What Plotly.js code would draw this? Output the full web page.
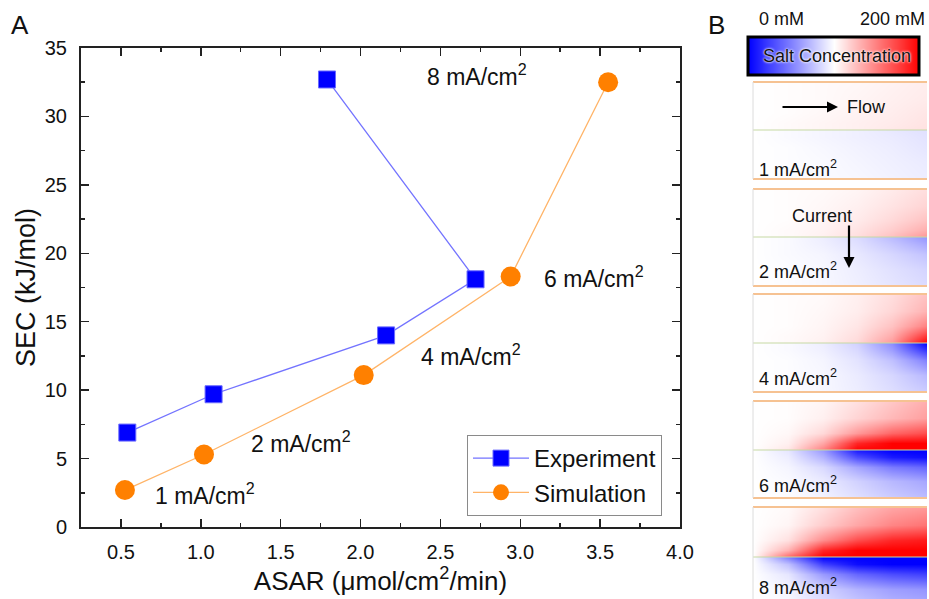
<!DOCTYPE html>
<html><head><meta charset="utf-8">
<script src="https://cdn.plot.ly/plotly-3.0.1.min.js"></script>
<style>html,body{margin:0;padding:0;background:#fff}</style>
</head><body><div id="chart" style="width:929px;height:599px"></div>
<script>
// ---------- Panel A data ----------
const expASAR = [0.54, 1.08, 2.16, 2.72, 1.79];
const expSEC  = [6.9, 9.7, 14.0, 18.1, 32.7];
const simASAR = [0.525, 1.02, 2.02, 2.94, 3.55];
const simSEC  = [2.7, 5.3, 11.1, 18.3, 32.5];
const currentLabels = ['1 mA/cm<sup>2</sup>', '2 mA/cm<sup>2</sup>', '4 mA/cm<sup>2</sup>', '6 mA/cm<sup>2</sup>', '8 mA/cm<sup>2</sup>'];

// ---------- Panel B data (salt concentration, mM) ----------
const concScale = [0, 25, 50, 75, 100, 125, 150, 175, 200];
const channelX = [0, 0.2, 0.4, 0.6, 0.8, 1.0];        // along flow
const channelY = [0, 0.15, 0.35, 0.65, 1.0];          // distance from membrane
// rows: from membrane outward
const conc1Top = [[100,102,104,106,109,112],[100,102,104,106,108,111],[100,101,103,105,107,110],[100,101,102,104,106,108],[100,101,102,103,105,107]];
const conc1Bot = [[100,98,96,94,91,88],[100,98,96,94,92,89],[100,99,97,95,93,90],[100,99,98,96,94,92],[100,99,98,97,95,93]];
const conc2Top = [[100,102,106,113,125,142],[100,102,105,111,120,132],[100,101,104,108,115,124],[100,101,103,106,111,117],[100,101,102,104,108,113]];
const conc2Bot = [[100,98,93,86,73,58],[100,98,94,88,78,66],[100,98,96,91,84,76],[100,99,97,93,88,83],[100,99,97,94,90,86]];
const conc4Top = [[100,102,106,115,140,200],[100,102,105,113,133,180],[100,101,104,110,124,150],[100,101,103,107,116,130],[100,101,102,106,113,124]];
const conc4Bot = [[100,98,93,82,55,0],[100,98,94,85,62,20],[100,99,96,89,75,50],[100,99,97,92,84,72],[100,99,97,93,87,80]];
const conc6Top = [[100,110,150,200,200,200],[100,106,135,185,200,200],[100,103,115,140,160,170],[100,101,106,117,128,138],[100,101,104,112,122,132]];
const conc6Bot = [[100,90,60,10,0,0],[100,93,70,30,10,5],[100,96,85,65,48,40],[100,98,92,82,72,65],[100,99,95,88,80,74]];
const conc8Top = [[100,160,200,200,200,200],[100,130,185,200,200,200],[100,112,145,170,185,190],[100,104,120,135,148,155],[100,102,112,125,135,140]];
const conc8Bot = [[100,50,0,0,0,0],[100,75,25,5,0,0],[100,90,60,40,30,25],[100,96,82,70,62,58],[100,98,88,80,72,68]];
const panelTop = [conc1Top, conc2Top, conc4Top, conc6Top, conc8Top];
const panelBot = [conc1Bot, conc2Bot, conc4Bot, conc6Bot, conc8Bot];
const panelNames = ['1 mA/cm<sup>2</sup>', '2 mA/cm<sup>2</sup>', '4 mA/cm<sup>2</sup>', '6 mA/cm<sup>2</sup>', '8 mA/cm<sup>2</sup>'];

// ---------- helpers ----------
const W = 929, H = 599;
const PX = x => x / W;
const PY = y => 1 - y / H;
const FONT = 'Liberation Sans, Arial, sans-serif';
const cscale = [[0, 'rgb(0,0,255)'], [0.5, 'rgb(255,255,255)'], [1, 'rgb(255,0,0)']];
const txt = (x, y, text, size, extra) => Object.assign({xref: 'paper', yref: 'paper', x: PX(x), y: PY(y), text: text,
  showarrow: false, xanchor: 'center', yanchor: 'middle', font: {size: size, family: FONT, color: '#111'}}, extra || {});

const traces = [
  {x: expASAR, y: expSEC, name: 'Experiment', type: 'scatter', mode: 'lines+markers',
   xaxis: 'x', yaxis: 'y',
   line: {color: 'rgba(90,90,255,0.85)', width: 1.3},
   marker: {symbol: 'square', size: 17, color: '#0000ff', line: {color: '#6a6aff', width: 1}}},
  {x: simASAR, y: simSEC, name: 'Simulation', type: 'scatter', mode: 'lines+markers',
   xaxis: 'x', yaxis: 'y',
   line: {color: '#ffb468', width: 1.3},
   marker: {symbol: 'circle', size: 20, color: '#ff8000'}}
];

const layout = {
  width: W, height: H,
  margin: {l: 0, r: 0, t: 0, b: 0},
  paper_bgcolor: '#fff', plot_bgcolor: 'rgba(0,0,0,0)',
  font: {family: FONT, color: '#111'},
  showlegend: true,
  legend: {x: PX(467), y: PY(435), xanchor: 'left', yanchor: 'top',
    bordercolor: '#8a8a8a', borderwidth: 1, bgcolor: '#fff',
    font: {size: 24, family: FONT}, itemwidth: 56, tracegroupgap: 0},
  xaxis: {domain: [PX(81), PX(680)], range: [0.25, 4.0], anchor: 'y',
    tick0: 0.5, dtick: 0.5, tickformat: '.1f',
    ticks: 'inside', ticklen: 8, tickwidth: 1.5, tickcolor: '#222',
    showline: true, linewidth: 2, linecolor: '#222', mirror: 'allticks',
    showgrid: false, zeroline: false,
    minor: {ticks: 'inside', ticklen: 4, tickwidth: 1.5, tickcolor: '#222', dtick: 0.25, tick0: 0.5, showgrid: false},
    tickfont: {size: 20, family: FONT}, ticklabelstandoff: 6,
    title: {text: 'ASAR (μmol/cm<sup>2</sup>/min)', font: {size: 26, family: FONT}, standoff: 6}},
  yaxis: {domain: [PY(527), PY(48)], range: [0, 35], anchor: 'x',
    tick0: 0, dtick: 5,
    ticks: 'inside', ticklen: 8, tickwidth: 1.5, tickcolor: '#222',
    showline: true, linewidth: 2, linecolor: '#222', mirror: 'allticks',
    showgrid: false, zeroline: false,
    minor: {ticks: 'inside', ticklen: 4, tickwidth: 1.5, tickcolor: '#222', dtick: 2.5, showgrid: false},
    tickfont: {size: 20, family: FONT}, ticklabelstandoff: 8,
    title: {text: 'SEC (kJ/mol)', font: {size: 27, family: FONT}, standoff: 1}},
  xaxis2: {domain: [PX(753), PX(927)], range: [0, 1], anchor: 'y2', visible: false, fixedrange: true},
  xaxis3: {domain: [PX(748), PX(919)], range: [0, 200], anchor: 'y12', visible: false, fixedrange: true},
  yaxis12: {domain: [PY(75), PY(37)], range: [0, 1], anchor: 'x3', visible: false, fixedrange: true},
  shapes: [],
  annotations: []
};

// panel geometry (pixels)
const pTop = [82, 189, 294, 401, 507];
const pMid = [130, 237, 343, 450, 557];
const pBot = [179, 286, 392, 498, 606];
const pLab = [168, 270, 377, 484, 586];

for (let i = 0; i < 5; i++) {
  const yt = 'yaxis' + (2 + 2 * i), yb = 'yaxis' + (3 + 2 * i);
  const botVisible = Math.min(pBot[i], H);
  layout[yt] = {domain: [PY(pMid[i]), PY(pTop[i])], range: [0, 1], anchor: 'x2', visible: false, fixedrange: true};
  const frac = (botVisible - pMid[i]) / (pBot[i] - pMid[i]);
  layout[yb] = {domain: [PY(botVisible), PY(pMid[i])], range: [frac, 0], anchor: 'x2', visible: false, fixedrange: true};
  traces.push({type: 'heatmap', x: channelX, y: channelY, z: panelTop[i], xaxis: 'x2', yaxis: 'y' + (2 + 2 * i),
    zsmooth: 'best', colorscale: cscale, zmin: 0, zmax: 200, showscale: false, hoverinfo: 'skip', showlegend: false});
  traces.push({type: 'heatmap', x: channelX, y: channelY, z: panelBot[i], xaxis: 'x2', yaxis: 'y' + (3 + 2 * i),
    zsmooth: 'best', colorscale: cscale, zmin: 0, zmax: 200, showscale: false, hoverinfo: 'skip', showlegend: false});
  layout.shapes.push({type: 'line', xref: 'paper', yref: 'paper', x0: PX(753), x1: PX(927), y0: PY(pTop[i]), y1: PY(pTop[i]), line: {color: '#f6c292', width: 2}});
  if (pBot[i] < H) layout.shapes.push({type: 'line', xref: 'paper', yref: 'paper', x0: PX(753), x1: PX(927), y0: PY(pBot[i]), y1: PY(pBot[i]), line: {color: '#f6c292', width: 2}});
  layout.shapes.push({type: 'line', xref: 'paper', yref: 'paper', x0: PX(753), x1: PX(927), y0: PY(pMid[i]), y1: PY(pMid[i]), line: {color: '#c6d9a4', width: 1}});
  layout.shapes.push({type: 'line', xref: 'paper', yref: 'paper', x0: PX(753), x1: PX(753), y0: PY(Math.min(pBot[i], H)), y1: PY(pTop[i]), line: {color: '#dcdcdc', width: 1}});
  layout.annotations.push(txt(757, pLab[i], panelNames[i], 18, {xanchor: 'left'}));
}

// salt concentration bar
traces.push({type: 'heatmap', x: concScale, y: [0, 1], z: [concScale, concScale], xaxis: 'x3', yaxis: 'y12',
  zsmooth: 'best', colorscale: cscale, zmin: 0, zmax: 200, showscale: false, hoverinfo: 'skip', showlegend: false});
layout.shapes.push({type: 'rect', xref: 'paper', yref: 'paper', x0: PX(748), x1: PX(919), y0: PY(75), y1: PY(37), line: {color: '#000', width: 3}});

// labels of panel A points
const labPos = [[1.025, 2.4], [1.63, 6.2], [2.69, 12.6], [3.46, 18.3], [2.73, 33.0]];
currentLabels.forEach((t, i) => layout.annotations.push({xref: 'x', yref: 'y', x: labPos[i][0], y: labPos[i][1],
  xanchor: 'center', yanchor: 'middle',
  text: t, showarrow: false, font: {size: 23, family: FONT, color: '#111'}}));

layout.annotations.push(
  txt(20, 25, 'A', 26),
  txt(716, 25, 'B', 26),
  txt(781, 19, '0 mM', 18),
  txt(892, 19, '200 mM', 18),
  txt(837, 56, 'Salt Concentration', 18, {font: {size: 18, family: FONT, color: '#111', shadow: '0px 0px 3px #fff, 0px 0px 2px #fff'}}),
  {xref: 'paper', yref: 'paper', x: PX(838), y: PY(107), ax: -57, ay: 0, text: '', showarrow: true,
    arrowhead: 2, arrowsize: 1, arrowwidth: 2.2, arrowcolor: '#000'},
  txt(866, 107, 'Flow', 18),
  {xref: 'paper', yref: 'paper', x: PX(849), y: PY(268), ax: 0, ay: -44, text: '', showarrow: true,
    arrowhead: 2, arrowsize: 1, arrowwidth: 2.2, arrowcolor: '#000'},
  txt(822, 216, 'Current', 18)
);

Plotly.newPlot('chart', traces, layout, {displayModeBar: false, staticPlot: true});
</script>
</body></html>
